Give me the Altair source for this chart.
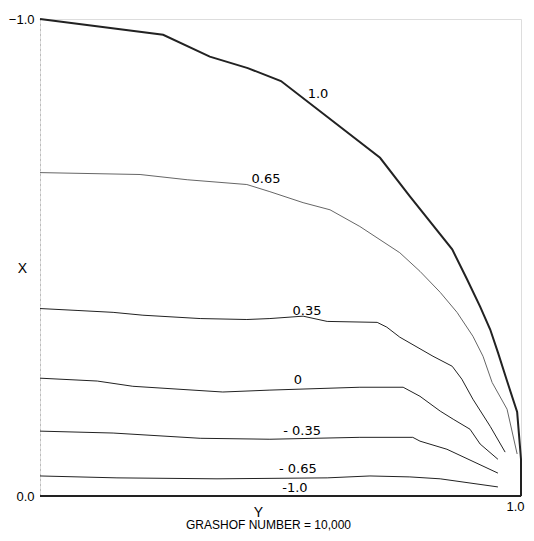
import altair as alt
import pandas as pd

# contour levels
levels = ["1.0", "0.65", "0.35", "0", "-0.35", "-0.65", "-1.0"]

# each contour: horizontal coordinate Y, vertical coordinate X
c_p100_y = [0.000, 0.256, 0.353, 0.432, 0.501, 0.597, 0.707, 0.769, 0.857, 0.888, 0.915, 0.936, 0.952, 0.971, 0.992, 1.000, 1.000]
c_p100_x = [-1.000, -0.967, -0.921, -0.897, -0.870, -0.795, -0.709, -0.628, -0.517, -0.454, -0.397, -0.349, -0.301, -0.241, -0.176, -0.077, 0.000]

c_p065_y = [0.000, 0.208, 0.306, 0.430, 0.478, 0.547, 0.603, 0.665, 0.748, 0.790, 0.832, 0.867, 0.900, 0.921, 0.940, 0.971, 0.992]
c_p065_x = [-0.678, -0.674, -0.663, -0.653, -0.638, -0.615, -0.600, -0.565, -0.510, -0.471, -0.427, -0.385, -0.335, -0.293, -0.238, -0.182, -0.088]

c_p035_y = [0.000, 0.077, 0.152, 0.214, 0.333, 0.430, 0.478, 0.547, 0.597, 0.701, 0.721, 0.748, 0.817, 0.857, 0.877, 0.900, 0.936, 0.967]
c_p035_x = [-0.393, -0.389, -0.385, -0.379, -0.372, -0.370, -0.372, -0.377, -0.366, -0.364, -0.354, -0.333, -0.293, -0.272, -0.245, -0.203, -0.146, -0.092]

c_0_y = [0.000, 0.119, 0.193, 0.380, 0.478, 0.665, 0.755, 0.790, 0.832, 0.859, 0.894, 0.915, 0.952]
c_0_x = [-0.247, -0.241, -0.230, -0.218, -0.222, -0.228, -0.228, -0.209, -0.178, -0.161, -0.140, -0.109, -0.077]

c_m035_y = [0.000, 0.152, 0.333, 0.478, 0.665, 0.775, 0.790, 0.846, 0.952]
c_m035_x = [-0.136, -0.132, -0.121, -0.119, -0.123, -0.123, -0.115, -0.098, -0.048]

c_m065_y = [0.000, 0.160, 0.368, 0.597, 0.686, 0.769, 0.832, 0.952]
c_m065_x = [-0.042, -0.038, -0.036, -0.038, -0.042, -0.040, -0.036, -0.019]

c_m100_y = [0.000, 1.000]
c_m100_x = [0.000, 0.000]

# contour label positions (data coordinates)
label_text = ["1.0", "0.65", "0.35", "0", "- 0.35", "- 0.65", "-1.0"]
label_y = [0.578, 0.470, 0.555, 0.536, 0.545, 0.536, 0.530]
label_x = [-0.843, -0.665, -0.387, -0.243, -0.136, -0.056, -0.017]

curves = {
    "1.0": (c_p100_y, c_p100_x),
    "0.65": (c_p065_y, c_p065_x),
    "0.35": (c_p035_y, c_p035_x),
    "0": (c_0_y, c_0_x),
    "-0.35": (c_m035_y, c_m035_x),
    "-0.65": (c_m065_y, c_m065_x),
    "-1.0": (c_m100_y, c_m100_x),
}

widths = {"1.0": 2.0, "-1.0": 2.2}
colors = {"0.65": "#666666"}

rows = []
for lev in levels:
    ys, xs = curves[lev]
    for i, (yy, xx) in enumerate(zip(ys, xs)):
        rows.append({"level": lev, "i": i, "Y": yy, "X": xx})
df = pd.DataFrame(rows)
df["w"] = df["level"].map(lambda l: widths.get(l, 1.0))
df["c"] = df["level"].map(lambda l: colors.get(l, "#222222"))

lab = pd.DataFrame({"t": label_text, "Y": label_y, "X": label_x})

FONT = "Liberation Sans"
LFONT = "DejaVu Sans"

xscale = alt.Scale(domain=[0, 1], nice=False, zero=False)
yscale = alt.Scale(domain=[-1, 0], reverse=True, nice=False, zero=False)

xaxis = alt.Axis(
    values=[1], format=".1f", ticks=False, domain=False, grid=False,
    labelFlush=True, labelFlushOffset=3, labelPadding=4,
    labelFont=FONT, labelFontSize=13, labelColor="black",
    title="Y", titleX=218, titleY=16, titleBaseline="middle",
    titleFont=FONT, titleFontSize=14, titleFontWeight="normal", titleColor="black",
)
yaxis = alt.Axis(
    values=[-1, 0], format=".1f", ticks=False, grid=False,
    domain=True, domainColor="#999999", domainDash=[1, 4], domainWidth=1,
    labelPadding=6, labelFont=FONT, labelFontSize=13, labelColor="black",
    labelBaseline="middle",
    title="X", titleAngle=0, titleX=-18, titleY=249, titleAlign="center",
    titleBaseline="middle", titleFont=FONT, titleFontSize=14,
    titleFontWeight="normal", titleColor="black",
)

lines = alt.Chart(df).mark_line(interpolate="linear").encode(
    x=alt.X("Y:Q", scale=xscale, axis=xaxis),
    y=alt.Y("X:Q", scale=yscale, axis=yaxis),
    detail="level:N",
    order="i:Q",
    size=alt.Size("w:Q", scale=None, legend=None),
    color=alt.Color("c:N", scale=None, legend=None),
)

texts = alt.Chart(lab).mark_text(
    font=LFONT, fontSize=13, color="black", align="center", baseline="middle"
).encode(
    x=alt.X("Y:Q", scale=xscale),
    y=alt.Y("X:Q", scale=yscale),
    text="t:N",
)

chart = alt.layer(lines, texts).properties(
    width=481,
    height=477,
    autosize=alt.AutoSizeParams(type="none"),
    padding={"left": 32, "top": 11, "right": 5, "bottom": 37},
    title=alt.TitleParams(
        text="GRASHOF NUMBER = 10,000", orient="bottom", anchor="middle",
        frame="group", dx=-12, offset=1, font=FONT, fontSize=12,
        fontWeight="normal", color="black",
    ),
).configure_view(stroke=None).configure(background="white")

chart.save("out.html", embed_options={"renderer": "svg", "actions": False})
